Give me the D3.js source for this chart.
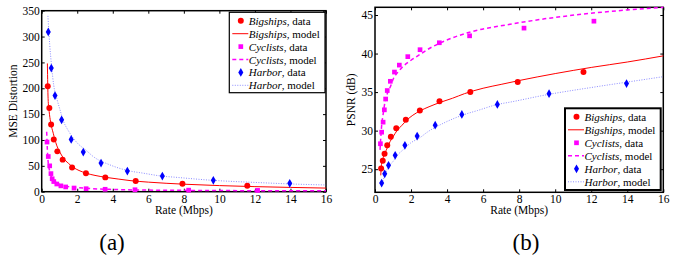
<!DOCTYPE html>
<html>
<head>
<meta charset="utf-8">
<script src="https://cdn.jsdelivr.net/npm/d3@7"></script>
<style>
  body { margin: 0; background: #fff; }
  text { font-family: "Liberation Serif", "Times New Roman", serif; fill: #000; }
</style>
</head>
<body>
<div id="chart"></div>
<script>
// ---- DATA ----
const rateTicks = [0, 2, 4, 6, 8, 10, 12, 14, 16];
const mseTicks = [0, 50, 100, 150, 200, 250, 300, 350];
const psnrTicks = [25, 30, 35, 40, 45];
const seriesNames = ["Bigships", "Cyclists", "Harbor"];

const bigshipsRate = [0.34, 0.43, 0.53, 0.68, 0.88, 1.18, 1.71, 2.49, 3.58, 5.29, 7.92, 11.57];
const bigshipsMse  = [204, 162, 130, 101, 78, 62, 47, 35.5, 27.7, 20.6, 15.5, 11.6];
const bigshipsPsnr = [25.1, 26.1, 27.0, 28.1, 29.2, 30.3, 31.4, 32.6, 33.8, 35.0, 36.3, 37.6];

const cyclistsRate = [0.30, 0.37, 0.45, 0.52, 0.59, 0.68, 0.85, 1.08, 1.35, 1.82, 2.50, 3.57, 5.25, 8.27, 12.15];
const cyclistsMse  = [96, 68, 50, 35, 25, 19.6, 14.9, 11.3, 9.2, 7.1, 5.8, 4.7, 3.8, 3.0, 2.5];
const cyclistsPsnr = [28.3, 29.8, 31.1, 32.7, 34.1, 35.2, 36.4, 37.6, 38.5, 39.6, 40.5, 41.4, 42.3, 43.3, 44.2];

const harborRate = [0.37, 0.54, 0.75, 1.12, 1.66, 2.34, 3.34, 4.82, 6.79, 9.66, 13.96];
const harborMse  = [309, 239, 186, 139, 101, 76.7, 55.4, 40, 30.3, 21.9, 16.1];
const harborPsnr = [23.2, 24.4, 25.5, 26.8, 28.1, 29.3, 30.7, 32.1, 33.4, 34.8, 36.1];

const bigshipsModelRate = [0.32, 0.36, 0.42, 0.5, 0.65, 0.84, 1.0, 1.22, 1.5, 1.78, 2.1, 2.53, 3.0, 3.66, 4.3, 4.97, 6, 7, 8, 10, 12, 14, 16];
const bigshipsModelMse  = [248, 180, 155, 135, 113, 90, 78, 65, 55, 47, 41, 35.5, 31.5, 27.5, 24.5, 21.5, 18.5, 16.3, 14.5, 11.8, 9.8, 8.3, 7.0];
const bigshipsModelPsnr = [24.2, 25.6, 26.2, 26.8, 27.6, 28.6, 29.2, 30.0, 30.7, 31.4, 32.0, 32.6, 33.1, 33.7, 34.2, 34.8, 35.5, 36.0, 36.5, 37.4, 38.2, 38.9, 39.7];

const cyclistsModelRate = [0.28, 0.32, 0.37, 0.45, 0.56, 0.7, 0.87, 1.03, 1.24, 1.5, 1.98, 2.5, 2.9, 3.83, 5.3, 7.5, 9.4, 12.3, 16];
const cyclistsModelMse  = [116, 80, 55, 40, 27, 21, 17, 13.5, 11.5, 9.8, 8, 6.6, 5.8, 4.5, 3.4, 2.7, 2.3, 1.9, 1.6];
const cyclistsModelPsnr = [27.5, 29.1, 30.7, 32.1, 33.8, 34.9, 35.8, 36.8, 37.5, 38.2, 39.1, 39.9, 40.5, 41.6, 42.8, 43.8, 44.5, 45.3, 46.0];

const harborModelRate = [0.35, 0.45, 0.55, 0.68, 0.85, 1.0, 1.24, 1.5, 1.98, 2.5, 2.9, 3.83, 4.97, 5.68, 6.8, 7.5, 9.4, 12.3, 14, 16];
const harborModelMse  = [340, 285, 245, 205, 180, 162, 135, 118, 95, 80, 68, 52, 40, 36, 30, 28, 22.5, 17.5, 15, 13];
const harborModelPsnr = [22.8, 23.6, 24.2, 25.0, 25.6, 26.0, 26.8, 27.4, 28.4, 29.1, 29.8, 31.0, 32.1, 32.6, 33.4, 33.7, 34.6, 35.7, 36.3, 37.0];

// ---- STYLES ----
const styles = {
  Bigships: { color: "#ff0000", symbol: d3.symbolCircle, size: 28, dash: null, lineColor: "#ff0000", lw: 1 },
  Cyclists: { color: "#ff00ff", symbol: d3.symbolSquare, size: 22, dash: "4,3", lineColor: "#ff00ff", lw: 1.5 },
  Harbor:   { color: "#0000ff", symbol: d3.symbolDiamond, size: 22, dash: "1,1.5", lineColor: "#8c8cff", lw: 1 }
};

const W = 694, H = 257;
const FONT = "'Liberation Serif', 'Times New Roman', serif";
const svg = d3.select("#chart").append("svg").attr("width", W).attr("height", H);

function panel(cfg) {
  const x = d3.scaleLinear().domain([0, 16]).range([cfg.left, cfg.right]);
  const y = d3.scaleLinear().domain(cfg.yDomain).range([cfg.bottom, cfg.top]);
  const g = svg.append("g");

  // frame
  g.append("rect")
    .attr("x", cfg.left).attr("y", cfg.top)
    .attr("width", cfg.right - cfg.left).attr("height", cfg.bottom - cfg.top)
    .attr("fill", "none").attr("stroke", "#000").attr("stroke-width", 1.5);

  // axes, inward ticks
  g.append("g").attr("transform", `translate(0,${cfg.bottom})`)
    .call(d3.axisBottom(x).tickValues(rateTicks).tickSizeInner(-3).tickSizeOuter(0).tickPadding(3));
  g.append("g").attr("transform", `translate(0,${cfg.top})`)
    .call(d3.axisTop(x).tickValues(rateTicks).tickSizeInner(-3).tickSizeOuter(0).tickFormat(""));
  g.append("g").attr("transform", `translate(${cfg.left},0)`)
    .call(d3.axisLeft(y).tickValues(cfg.yTicks).tickSizeInner(-3).tickSizeOuter(0).tickPadding(2));
  g.append("g").attr("transform", `translate(${cfg.right},0)`)
    .call(d3.axisRight(y).tickValues(cfg.yTicks).tickSizeInner(-3).tickSizeOuter(0).tickFormat(""));
  g.selectAll(".domain").remove();
  g.selectAll(".tick line").attr("stroke", "#000").attr("stroke-width", 1);
  g.selectAll(".tick text").style("font-family", FONT).style("font-size", "11.5px").attr("fill", "#000");

  // model curves
  const line = d3.line().x(d => x(d[0])).y(d => y(d[1])).curve(d3.curveMonotoneX);
  cfg.series.forEach(s => {
    const st = styles[s.name];
    g.append("path")
      .datum(d3.zip(s.modelRate, s.modelVal))
      .attr("d", line)
      .attr("fill", "none")
      .attr("stroke", st.lineColor)
      .attr("stroke-width", st.lw)
      .attr("stroke-dasharray", st.dash);
  });

  // data markers
  cfg.series.forEach(s => {
    const st = styles[s.name];
    g.selectAll(null)
      .data(d3.zip(s.rate, s.val))
      .enter()
      .append("path")
      .attr("d", d3.symbol().type(st.symbol).size(st.size))
      .attr("transform", d => `translate(${x(d[0])},${y(d[1])})`)
      .attr("fill", st.color);
  });

  // axis titles
  g.append("text")
    .attr("x", (cfg.left + cfg.right) / 2)
    .attr("y", cfg.bottom + 22)
    .style("text-anchor", "middle")
    .style("font-family", FONT)
    .style("font-size", "11.5px")
    .text("Rate (Mbps)");
  g.append("text")
    .attr("transform", `translate(${cfg.yLabelX},${(cfg.top + cfg.bottom) / 2}) rotate(-90)`)
    .style("text-anchor", "middle")
    .style("font-family", FONT)
    .style("font-size", "11.5px")
    .text(cfg.yLabel);

  // legend
  const L = cfg.legend;
  g.append("rect")
    .attr("x", L.x).attr("y", L.y).attr("width", L.w).attr("height", L.h)
    .attr("fill", "#fff").attr("stroke", "#000").attr("stroke-width", L.sw);
  const rows = [];
  seriesNames.forEach(n => { rows.push({ name: n, kind: "data" }); rows.push({ name: n, kind: "model" }); });
  rows.forEach((r, i) => {
    const st = styles[r.name];
    const cy = L.y + 8.5 + i * L.step;
    if (r.kind === "data") {
      g.append("path")
        .attr("d", d3.symbol().type(st.symbol).size(st.size))
        .attr("transform", `translate(${L.x + 11.5},${cy})`)
        .attr("fill", st.color);
    } else {
      g.append("line")
        .attr("x1", L.x + 3).attr("x2", L.x + 19)
        .attr("y1", cy).attr("y2", cy)
        .attr("stroke", st.lineColor).attr("stroke-width", st.lw)
        .attr("stroke-dasharray", st.dash);
    }
    const t = g.append("text")
      .attr("x", L.x + 19.5).attr("y", cy + 4)
      .style("font-family", FONT)
      .style("font-size", "11px");
    t.append("tspan").style("font-style", "italic").text(r.name);
    t.append("tspan").text(", " + r.kind);
  });

  return g;
}

panel({
  left: 41.7, right: 326, top: 10.7, bottom: 191.7,
  yDomain: [0, 350], yTicks: mseTicks, yLabel: "MSE Distortion", yLabelX: 17,
  series: [
    { name: "Bigships", rate: bigshipsRate, val: bigshipsMse, modelRate: bigshipsModelRate, modelVal: bigshipsModelMse },
    { name: "Cyclists", rate: cyclistsRate, val: cyclistsMse, modelRate: cyclistsModelRate, modelVal: cyclistsModelMse },
    { name: "Harbor", rate: harborRate, val: harborMse, modelRate: harborModelRate, modelVal: harborModelMse }
  ],
  legend: { x: 229.3, y: 12.3, w: 95.7, h: 80.4, step: 12.9, sw: 1.2 }
});

panel({
  left: 375, right: 663.3, top: 7.3, bottom: 192.3,
  yDomain: [22, 46], yTicks: psnrTicks, yLabel: "PSNR (dB)", yLabelX: 355,
  series: [
    { name: "Bigships", rate: bigshipsRate, val: bigshipsPsnr, modelRate: bigshipsModelRate, modelVal: bigshipsModelPsnr },
    { name: "Cyclists", rate: cyclistsRate, val: cyclistsPsnr, modelRate: cyclistsModelRate, modelVal: cyclistsModelPsnr },
    { name: "Harbor", rate: harborRate, val: harborPsnr, modelRate: harborModelRate, modelVal: harborModelPsnr }
  ],
  legend: { x: 565, y: 108.3, w: 95.7, h: 81.7, step: 13, sw: 2 }
});

// panel captions
svg.append("text").attr("x", 112).attr("y", 250)
  .style("text-anchor", "middle").style("font-family", FONT).style("font-size", "23px").text("(a)");
svg.append("text").attr("x", 526).attr("y", 250)
  .style("text-anchor", "middle").style("font-family", FONT).style("font-size", "23px").text("(b)");
</script>
</body>
</html>
